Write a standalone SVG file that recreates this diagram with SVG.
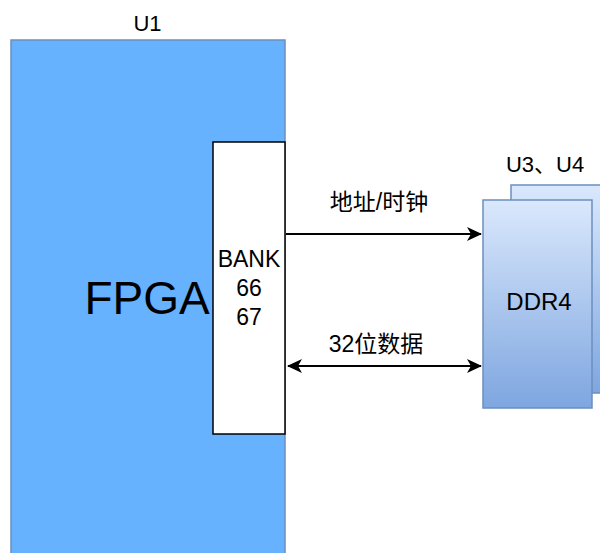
<svg xmlns="http://www.w3.org/2000/svg" width="600" height="553" viewBox="0 0 600 553">
<style>
text{font-family:"Liberation Sans","Noto Sans CJK SC",Arial,sans-serif;fill:#000;text-anchor:middle}
.lbl{font-size:22px}
.cjk{font-size:23px}
.edge{stroke:#000;stroke-width:2;fill:none}
</style>
<defs>
<linearGradient id="g" x1="0" y1="0" x2="0" y2="1">
<stop offset="0" stop-color="#dae8fc"/>
<stop offset="1" stop-color="#7ea6e0"/>
</linearGradient>
<marker id="ah" viewBox="0 0 15 14" refX="14" refY="7" markerWidth="15" markerHeight="14" markerUnits="userSpaceOnUse" orient="auto-start-reverse">
<path d="M0,0 L15,7 L0,14 L4,7 Z" fill="#000"/>
</marker>
</defs>
<g id="fpga">
<rect x="11" y="40" width="274" height="530" fill="#66b2ff" stroke="#6c8ebf" stroke-width="1.5"/>
<text x="147.5" y="31" class="lbl">U1</text>
<text x="147" y="314" font-size="46">FPGA</text>
</g>
<g id="bank">
<rect x="213" y="142" width="72" height="292" fill="#fff" stroke="#000" stroke-width="1.5"/>
<text x="249" y="267" font-size="23">BANK</text>
<text x="249" y="296" font-size="23">66</text>
<text x="249" y="325" font-size="23">67</text>
</g>
<g id="ddr4">
<rect x="511" y="185" width="100" height="208" fill="url(#g)" stroke="#6c8ebf" stroke-width="1.5"/>
<rect x="483" y="200" width="109" height="208" fill="url(#g)" stroke="#6c8ebf" stroke-width="1.5"/>
<text x="545" y="172" class="lbl">U3、U4</text>
<text x="539" y="310" font-size="24">DDR4</text>
</g>
<g id="connectors">
<line x1="286" y1="234" x2="481" y2="234" class="edge" marker-end="url(#ah)"/>
<line x1="288" y1="366" x2="481" y2="366" class="edge" marker-start="url(#ah)" marker-end="url(#ah)"/>
<text x="379" y="210" class="cjk">地址/时钟</text>
<text x="376" y="352" class="cjk">32位数据</text>
</g>
</svg>
